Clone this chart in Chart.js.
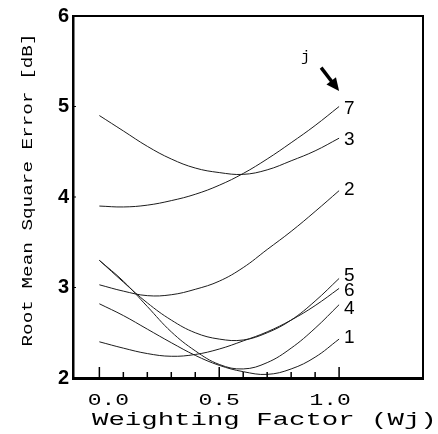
<!DOCTYPE html>
<html>
<head>
<meta charset="utf-8">
<script src="https://cdn.jsdelivr.net/npm/chart.js@4/dist/chart.umd.min.js"></script>
<style>
	html, body { margin: 0; padding: 0; background: #fff; }
	#wrap { width: 438px; height: 434px; }
</style>
</head>
<body>
<div id="wrap"><canvas id="rmsChart" width="438" height="434"></canvas></div>
<script>
//RMS ERROR vs WEIGHTING FACTOR

const wj = [0, 0.1, 0.2, 0.3, 0.4, 0.5, 0.6, 0.7, 0.8, 0.9, 1.0];
const curve1 = [2.82, 2.69, 2.54, 2.39, 2.25, 2.14, 2.07, 2.04, 2.10, 2.23, 2.43];
const curve2 = [3.03, 2.96, 2.91, 2.92, 2.98, 3.07, 3.22, 3.42, 3.62, 3.84, 4.07];
const curve3 = [4.90, 4.73, 4.56, 4.42, 4.32, 4.27, 4.25, 4.30, 4.40, 4.51, 4.65];
const curve4 = [3.30, 3.07, 2.79, 2.51, 2.30, 2.15, 2.10, 2.17, 2.33, 2.55, 2.81];
const curve5 = [3.30, 3.06, 2.83, 2.64, 2.50, 2.43, 2.42, 2.50, 2.64, 2.85, 3.10];
const curve6 = [2.40, 2.33, 2.27, 2.24, 2.26, 2.32, 2.41, 2.51, 2.64, 2.80, 2.99];
const curve7 = [3.90, 3.89, 3.91, 3.96, 4.03, 4.13, 4.26, 4.42, 4.60, 4.79, 5.00];

const curveNames = ["7", "3", "2", "5", "6", "4", "1"];
const curveLabelY = [4.97, 4.63, 4.08, 3.13, 2.96, 2.76, 2.44];
const xTickValues = [0, 0.5, 1.0];
const xTickLabels = ["0.0", "0.5", "1.0"];
const yTicks = [2, 3, 4, 5, 6];

const allCurves = [curve7, curve3, curve2, curve5, curve6, curve4, curve1];

const toPoints = (ys) => ys.map((y, i) => ({ x: wj[i], y: y }));

// stretched mono text, like the old plotter lettering
function wideText(ctx, text, x, y, size, stretch, align) {
	ctx.save();
	ctx.font = size + "px 'Liberation Mono', 'DejaVu Sans Mono', monospace";
	ctx.textBaseline = "alphabetic";
	const w = ctx.measureText(text).width * stretch;
	let x0 = x;
	if (align === "center") x0 = x - w / 2;
	if (align === "right") x0 = x - w;
	ctx.translate(x0, y);
	ctx.scale(stretch, 1);
	ctx.fillText(text, 0, 0);
	ctx.restore();
}

const decorPlugin = {
	id: "decor",
	afterDraw(chart) {
		const ctx = chart.ctx;
		const a = chart.chartArea;
		const xs = chart.scales.x;
		const ys = chart.scales.y;
		ctx.save();
		ctx.fillStyle = "#000";
		ctx.strokeStyle = "#000";

		// top + right frame
		ctx.lineWidth = 2;
		ctx.beginPath();
		ctx.moveTo(a.left, a.top);
		ctx.lineTo(a.right, a.top);
		ctx.lineTo(a.right, a.bottom);
		ctx.stroke();

		// inner ticks on the bottom axis
		ctx.lineWidth = 1.5;
		wj.forEach((v) => {
			const px = xs.getPixelForValue(v);
			const len = xTickValues.includes(v) ? 11 : 6;
			ctx.beginPath();
			ctx.moveTo(px, a.bottom);
			ctx.lineTo(px, a.bottom - len);
			ctx.stroke();
		});
		// small ticks on the left axis
		ctx.lineWidth = 1;
		yTicks.forEach((v) => {
			const py = ys.getPixelForValue(v);
			ctx.beginPath();
			ctx.moveTo(a.left, py);
			ctx.lineTo(a.left + 3, py);
			ctx.stroke();
		});

		// x tick labels (the original lettering sits a bit inward of the ticks)
		xTickValues.forEach((v, i) => {
			const nudge = 9 - 18 * v;
			wideText(ctx, xTickLabels[i], xs.getPixelForValue(v) + nudge, 405, 17, 1.35, "center");
		});

		// axis titles
		wideText(ctx, "Weighting Factor (Wj)", 92, 425, 18, 1.52, "left");
		ctx.save();
		ctx.translate(32, 190);
		ctx.rotate(-Math.PI / 2);
		wideText(ctx, "Root Mean Square Error [dB]", 0, 0, 14, 1.38, "center");
		ctx.restore();

		// curve numbers at the right ends
		ctx.font = "19px 'Liberation Sans', Arial, sans-serif";
		ctx.textAlign = "left";
		ctx.textBaseline = "middle";
		curveNames.forEach((name, i) => {
			ctx.fillText(name, xs.getPixelForValue(1.02), ys.getPixelForValue(curveLabelY[i]));
		});

		// "j" and the arrow
		wideText(ctx, "j", xs.getPixelForValue(0.86), ys.getPixelForValue(5.5), 15, 1.0, "center");
		const x1 = xs.getPixelForValue(0.925), y1 = ys.getPixelForValue(5.43);
		const x2 = xs.getPixelForValue(1.0), y2 = ys.getPixelForValue(5.17);
		const ang = Math.atan2(y2 - y1, x2 - x1);
		ctx.lineWidth = 3.5;
		ctx.beginPath();
		ctx.moveTo(x1, y1);
		ctx.lineTo(x2 - 9 * Math.cos(ang), y2 - 9 * Math.sin(ang));
		ctx.stroke();
		ctx.beginPath();
		ctx.moveTo(x2, y2);
		ctx.lineTo(x2 - 13 * Math.cos(ang) + 6 * Math.sin(ang), y2 - 13 * Math.sin(ang) - 6 * Math.cos(ang));
		ctx.lineTo(x2 - 13 * Math.cos(ang) - 6 * Math.sin(ang), y2 - 13 * Math.sin(ang) + 6 * Math.cos(ang));
		ctx.closePath();
		ctx.fill();

		ctx.restore();
	},
};

const rmsData = {
	datasets: allCurves.map((c, i) => ({
		label: "j = " + curveNames[i],
		data: toPoints(c),
		borderColor: "#1c1c1c",
		borderWidth: 1,
		pointRadius: 0,
		tension: 0.4,
		fill: false,
	})),
};

const rmsConfig = {
	type: "line",
	data: rmsData,
	options: {
		responsive: false,
		animation: false,
		layout: { padding: { left: 0, top: 16, right: 15, bottom: 0 } },
		plugins: { legend: { display: false }, tooltip: { enabled: false } },
		scales: {
			x: {
				type: "linear",
				min: -0.11,
				max: 1.35,
				grid: { display: false },
				border: { display: true, color: "#000", width: 3 },
				ticks: { display: false },
				afterFit: (s) => { s.height = 56; },
			},
			y: {
				min: 2,
				max: 6,
				grid: { display: false, drawTicks: false },
				border: { display: true, color: "#000", width: 2.5 },
				ticks: {
					stepSize: 1,
					padding: 4,
					color: "#000",
					font: { family: "'Liberation Sans', Arial, sans-serif", size: 20, weight: "bold" },
				},
				afterFit: (s) => { s.width = 73; },
			},
		},
	},
	plugins: [decorPlugin],
};

const RmsChart = new Chart(document.getElementById("rmsChart"), rmsConfig);
</script>
</body>
</html>
